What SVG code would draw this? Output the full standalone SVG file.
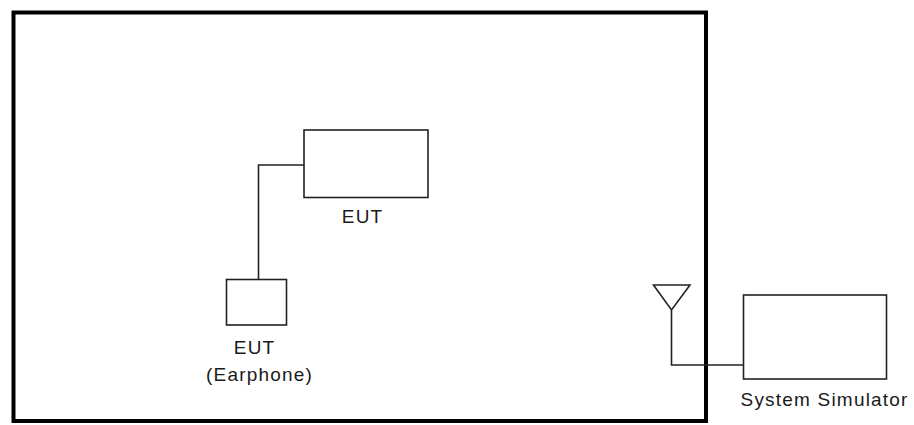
<svg xmlns="http://www.w3.org/2000/svg" width="914" height="425" viewBox="0 0 914 425">
<style>
.box{fill:#fff;stroke:#222;stroke-width:1.6}
.wire{fill:none;stroke:#222;stroke-width:1.6}
.lbl{font-family:"Liberation Sans",Arial,sans-serif;font-size:19px;letter-spacing:1.2px;fill:#1a1a1a;text-anchor:middle}
</style>
<rect width="914" height="425" fill="#fff"/>
<g id="chamber"><rect x="13.5" y="12.5" width="692.5" height="408.5" fill="none" stroke="#000" stroke-width="4"/></g>
<g id="connectors">
<polyline class="wire" points="304,165 258.5,165 258.5,279.5"/>
<polyline class="wire" points="671.5,310 671.5,365 743.5,365"/>
</g>
<g id="eut"><rect class="box" x="304" y="130" width="124" height="67.5"/><text class="lbl" x="362.6" y="223">EUT</text></g>
<g id="earphone"><rect class="box" x="226.5" y="279.5" width="60" height="45.5"/><text class="lbl" x="254.6" y="354">EUT</text><text class="lbl" x="259.6" y="380.5">(Earphone)</text></g>
<g id="antenna"><polygon class="wire" points="653.5,285 690,285 671.5,310"/></g>
<g id="simulator"><rect class="box" x="743.5" y="295" width="143" height="84"/><text class="lbl" x="824.6" y="405.5">System Simulator</text></g>
</svg>
